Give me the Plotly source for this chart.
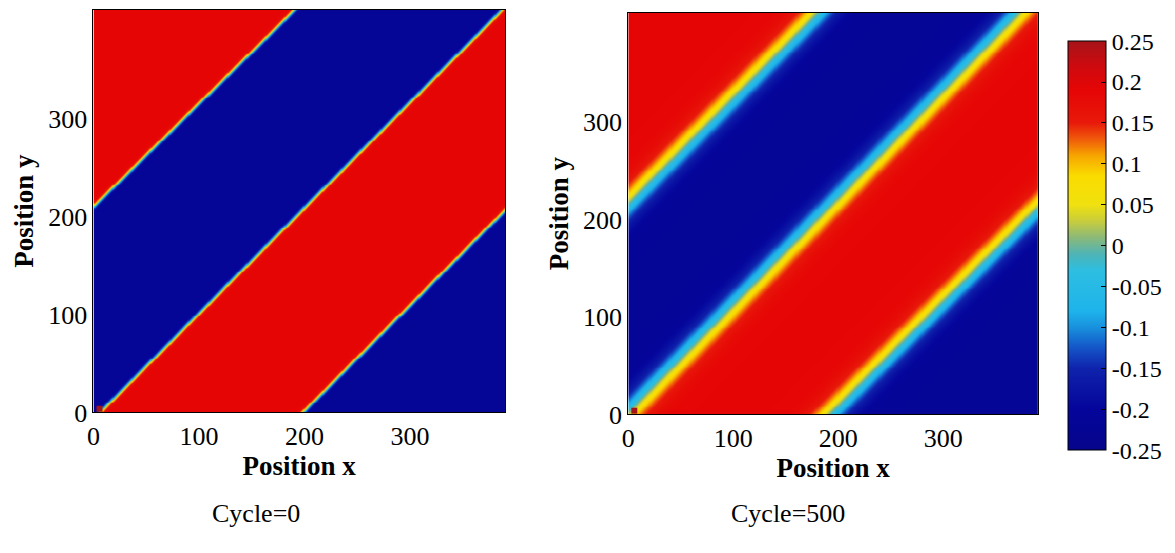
import numpy as np
import plotly.graph_objects as go

# ---------------- data ----------------
panel_titles = ["Cycle=0", "Cycle=500"]

# domain of the simulation grid
grid_x_max = 390
grid_y_max = 412

# stripe boundaries: x-position where each boundary meets y=0, and their slopes (dy/dx)
boundary_x0_cycle0 = [-200, 5, 198]
boundary_slope_cycle0 = [1.055, 1.08, 1.08]
boundary_x0_cycle500 = [-200, -4, 192]
boundary_slope_cycle500 = [1.08, 1.1, 1.07]

# interface half-width (in x units) for each cycle
interface_width = [3.0, 19.0]

# plateau values of the two phases
phase_red = 0.19
phase_blue = -0.215

# small dark-red patch near the origin: x0, x1, y0, y1, value
origin_patch = [2, 8, 1, 7, 0.25]

# colour scale (value -> colour)
cs_values = [-0.25, -0.2, -0.15, -0.125, -0.1, -0.08, -0.03, -0.01, 0.01, 0.03,
             0.05, 0.085, 0.11, 0.13, 0.15, 0.19, 0.22, 0.25]
cs_colors = ["rgb(5,5,140)", "rgb(5,5,155)", "rgb(15,35,172)", "rgb(20,85,200)",
             "rgb(25,145,222)", "rgb(30,180,235)", "rgb(45,190,225)", "rgb(80,180,180)",
             "rgb(140,185,120)", "rgb(200,205,60)", "rgb(240,225,15)", "rgb(250,220,0)",
             "rgb(246,165,0)", "rgb(240,90,10)", "rgb(232,25,10)", "rgb(230,5,5)",
             "rgb(205,10,15)", "rgb(165,20,25)"]
cbar_ticks = [0.25, 0.2, 0.15, 0.1, 0.05, 0, -0.05, -0.1, -0.15, -0.2, -0.25]
cbar_ticktext = ["0.25", "0.2", "0.15", "0.1", "0.05", "0", "-0.05", "-0.1", "-0.15", "-0.2", "-0.25"]
axis_ticks = [0, 100, 200, 300]

# ---------------- build fields ----------------
xc = np.arange(grid_x_max) + 0.5
yc = np.arange(grid_y_max) + 0.5
X, Y = np.meshgrid(xc, yc)


def field(x0s, slopes, w):
    s = np.ones_like(X)
    for k, (x0, sl) in enumerate(zip(x0s, slopes)):
        u = X - Y / sl - x0
        H = 0.5 * (1 + np.tanh(u / w))
        s = s - 2 * H * (1 if k % 2 == 0 else -1)
    mid = 0.5 * (phase_red + phase_blue)
    amp = 0.5 * (phase_red - phase_blue)
    z = mid + amp * s
    px0, px1, py0, py1, pv = origin_patch
    z[(X >= px0) & (X <= px1) & (Y >= py0) & (Y <= py1)] = pv
    return np.round(z, 3).astype(np.float32)


z0 = field(boundary_x0_cycle0, boundary_slope_cycle0, interface_width[0])
z500 = field(boundary_x0_cycle500, boundary_slope_cycle500, interface_width[1])

colorscale = [[(v + 0.25) / 0.5, c] for v, c in zip(cs_values, cs_colors)]

FONT = "Liberation Serif"
W, H = 1175, 553

fig = go.Figure()
fig.add_trace(go.Heatmap(x=xc, y=yc, z=z0, coloraxis="coloraxis", zsmooth="best",
                         xaxis="x", yaxis="y", hoverinfo="skip"))
fig.add_trace(go.Heatmap(x=xc, y=yc, z=z500, coloraxis="coloraxis", zsmooth="best",
                         xaxis="x2", yaxis="y2", hoverinfo="skip"))

axis_common = dict(showline=True, mirror=True, linecolor="black", linewidth=1,
                   ticks="", showgrid=False, zeroline=False, tickvals=axis_ticks,
                   tickfont=dict(family=FONT, size=26, color="black"))

fig.update_layout(
    width=W, height=H, margin=dict(l=0, r=0, t=0, b=0),
    paper_bgcolor="white", plot_bgcolor="white", showlegend=False,
    xaxis=dict(domain=[87 / W, 501 / W], range=[0, grid_x_max], anchor="y",
               title=dict(text="<b>Position x</b>", standoff=4,
                          font=dict(family=FONT, size=27, color="black")),
               **axis_common),
    yaxis=dict(domain=[(H - 424) / H, (H - 10) / H], range=[0, grid_y_max], anchor="x",
               title=dict(text="<b>Position y</b>", standoff=6,
                          font=dict(family=FONT, size=27, color="black")),
               **axis_common),
    xaxis2=dict(domain=[625 / W, 1037 / W], range=[0, grid_x_max], anchor="y2",
                title=dict(text="<b>Position x</b>", standoff=4,
                           font=dict(family=FONT, size=27, color="black")),
                **axis_common),
    yaxis2=dict(domain=[(H - 426) / H, (H - 13) / H], range=[0, grid_y_max], anchor="x2",
                title=dict(text="<b>Position y</b>", standoff=6,
                           font=dict(family=FONT, size=27, color="black")),
                **axis_common),
    coloraxis=dict(
        colorscale=colorscale, cmin=-0.25, cmax=0.25,
        colorbar=dict(
            x=1067 / W, xanchor="left", y=(H - 252.5) / H, yanchor="middle",
            thickness=38, thicknessmode="pixels", len=409, lenmode="pixels",
            outlinewidth=1, outlinecolor="black", xpad=0, ypad=0,
            tickvals=cbar_ticks, ticktext=cbar_ticktext,
            ticks="inside", ticklen=5, tickcolor="black",
            tickfont=dict(family=FONT, size=24, color="black"),
        ),
    ),
    annotations=[
        dict(text=panel_titles[0], x=250 / W, y=(H - 528) / H, xref="paper", yref="paper",
             xanchor="center", yanchor="middle",
             showarrow=False, font=dict(family=FONT, size=26, color="black")),
        dict(text=panel_titles[1], x=786 / W, y=(H - 528) / H, xref="paper", yref="paper",
             xanchor="center", yanchor="middle",
             showarrow=False, font=dict(family=FONT, size=26, color="black")),
    ],
)

fig.write_html("out.html")
